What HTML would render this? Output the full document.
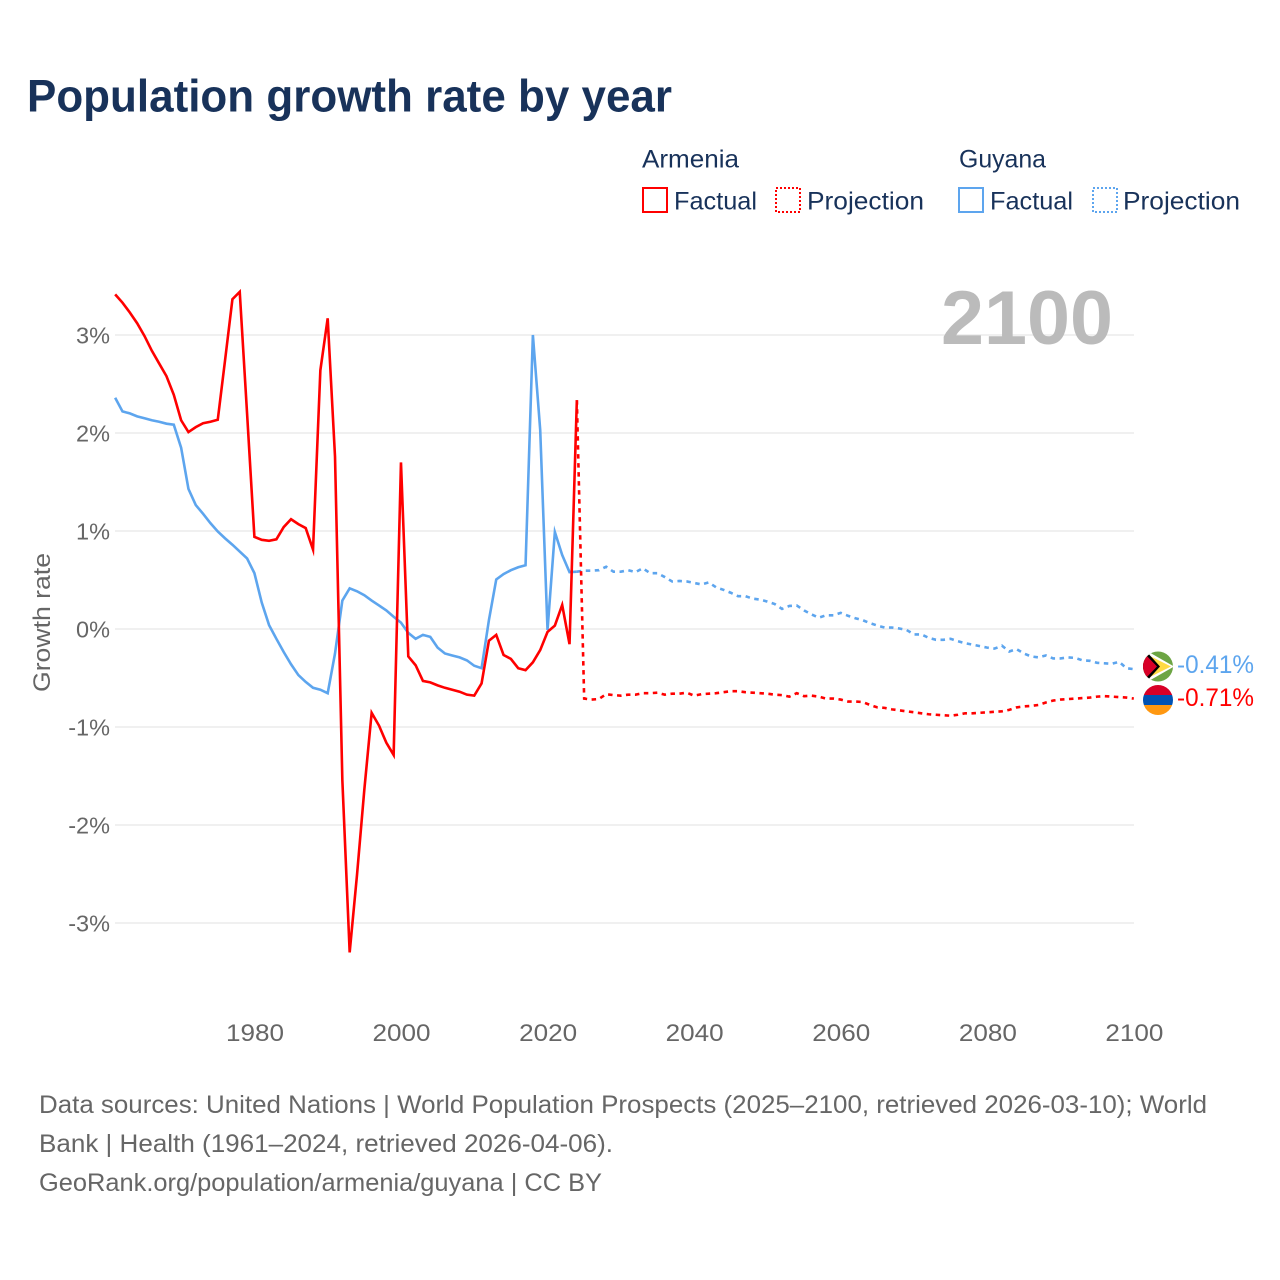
<!DOCTYPE html>
<html lang="en">
<head>
<meta charset="utf-8">
<title>Population growth rate by year</title>
<style>
html,body{margin:0;padding:0;background:#fff;width:1280px;height:1280px;overflow:hidden}
svg{display:block}
text{font-family:"Liberation Sans",sans-serif}
</style>
</head>
<body>
<svg id="chart" xmlns="http://www.w3.org/2000/svg" width="1280" height="1280" viewBox="0 0 1280 1280">
  <rect x="0" y="0" width="1280" height="1280" fill="#fff"/>
  <text x="27" y="111.500" font-size="45" font-weight="700" fill="#18325a" textLength="645" lengthAdjust="spacingAndGlyphs">Population growth rate by year</text>

  <g font-size="25" fill="#18325a">
    <text x="642" y="167.500" textLength="97" lengthAdjust="spacingAndGlyphs">Armenia</text>
    <rect x="643" y="188" width="24" height="24" fill="none" stroke="#ff0000" stroke-width="2"/>
    <text x="674" y="209.500" textLength="83" lengthAdjust="spacingAndGlyphs">Factual</text>
    <rect x="776" y="188" width="24" height="24" fill="none" stroke="#ff0000" stroke-width="2" stroke-dasharray="2 2"/>
    <text x="807" y="209.500" textLength="117" lengthAdjust="spacingAndGlyphs">Projection</text>
    <text x="959" y="167.500" textLength="87" lengthAdjust="spacingAndGlyphs">Guyana</text>
    <rect x="959" y="188" width="24" height="24" fill="none" stroke="#5da5ee" stroke-width="2"/>
    <text x="990" y="209.500" textLength="83" lengthAdjust="spacingAndGlyphs">Factual</text>
    <rect x="1093" y="188" width="24" height="24" fill="none" stroke="#5da5ee" stroke-width="2" stroke-dasharray="2 2"/>
    <text x="1123" y="209.500" textLength="117" lengthAdjust="spacingAndGlyphs">Projection</text>
  </g>

  <g id="grid"></g>
  <g id="yTicks"></g>
  <g id="xTicks"></g>
  <text transform="translate(50 692) rotate(-90)" font-size="24" fill="#666" textLength="139" lengthAdjust="spacingAndGlyphs">Growth rate</text>
  <text x="941" y="344" font-size="76" font-weight="700" fill="#bbbbbb" textLength="172" lengthAdjust="spacingAndGlyphs">2100</text>

  <g id="series"></g>

  <defs>
    <clipPath id="clipGuyana"><circle cx="1158" cy="666.500" r="15"/></clipPath>
    <clipPath id="clipArmenia"><circle cx="1158" cy="700" r="15"/></clipPath>
  </defs>
  <g clip-path="url(#clipGuyana)">
    <rect x="1143" y="651" width="30" height="31" fill="#6da544"/>
    <polygon points="1147,651 1174,666.500 1147,682 1143,682 1143,651" fill="#fff"/>
    <polygon points="1146,654 1171,666.500 1146,679 1143,679 1143,654" fill="#ffda44"/>
    <polygon points="1143,651 1146,651 1160,666.500 1146,682 1143,682" fill="#000"/>
    <polygon points="1143,654 1145,654 1157,666.500 1145,679 1143,679" fill="#d80027"/>
  </g>
  <g clip-path="url(#clipArmenia)">
    <rect x="1143" y="685" width="30" height="10" fill="#d80027"/>
    <rect x="1143" y="695" width="30" height="10" fill="#0052b4"/>
    <rect x="1143" y="705" width="30" height="10" fill="#ff9811"/>
  </g>
  <text id="labelGuyana" x="1177" y="673" font-size="25" fill="#5da5ee" textLength="77" lengthAdjust="spacingAndGlyphs"></text>
  <text id="labelArmenia" x="1177" y="706" font-size="25" fill="#ff0000" textLength="77" lengthAdjust="spacingAndGlyphs"></text>

  <g font-size="25" fill="#666">
    <text x="39" y="1113" textLength="1168" lengthAdjust="spacingAndGlyphs">Data sources: United Nations | World Population Prospects (2025–2100, retrieved 2026-03-10); World</text>
    <text x="39" y="1152" textLength="574" lengthAdjust="spacingAndGlyphs">Bank | Health (1961–2024, retrieved 2026-04-06).</text>
    <text x="39" y="1191" textLength="563" lengthAdjust="spacingAndGlyphs">GeoRank.org/population/armenia/guyana | CC BY</text>
  </g>
</svg>
<script>
const yTickValues = [3, 2, 1, 0, -1, -2, -3];
const xTickValues = [1980, 2000, 2020, 2040, 2060, 2080, 2100];
const factualStartYear = 1961;
const projectionStartYear = 2024;
const armeniaFactual = [
  3.415,3.33,3.23,3.12,2.99,2.84,2.71,2.58,2.39,2.13,
  2.01,2.06,2.10,2.115,2.135,2.745,3.365,3.44,2.2,0.94,
  0.91,0.90,0.915,1.04,1.12,1.07,1.03,0.81,2.64,3.17,
  1.76,-1.54,-3.30,-2.51,-1.64,-0.855,-0.985,-1.16,-1.285,1.70,
  -0.28,-0.37,-0.53,-0.545,-0.575,-0.60,-0.62,-0.64,-0.67,-0.68,
  -0.555,-0.12,-0.06,-0.265,-0.305,-0.40,-0.42,-0.34,-0.215,-0.03,
  0.035,0.245,-0.155,2.335
];
const guyanaFactual = [
  2.36,2.22,2.20,2.17,2.15,2.13,2.115,2.095,2.085,1.85,
  1.43,1.265,1.175,1.08,0.995,0.925,0.86,0.79,0.72,0.57,
  0.27,0.04,-0.10,-0.235,-0.36,-0.47,-0.54,-0.60,-0.62,-0.655,
  -0.25,0.29,0.415,0.385,0.345,0.29,0.24,0.19,0.125,0.065,
  -0.04,-0.10,-0.06,-0.08,-0.19,-0.25,-0.27,-0.29,-0.32,-0.375,
  -0.40,0.09,0.505,0.56,0.60,0.63,0.65,3.0,2.03,-0.01,
  0.99,0.755,0.58,0.585
];
const armeniaProjection = [
  2.335,-0.71,-0.72,-0.715,-0.665,-0.675,-0.68,-0.67,-0.67,-0.655,
  -0.655,-0.65,-0.67,-0.66,-0.66,-0.65,-0.68,-0.665,-0.66,-0.655,
  -0.645,-0.635,-0.635,-0.645,-0.65,-0.655,-0.66,-0.67,-0.675,-0.69,
  -0.655,-0.685,-0.68,-0.69,-0.71,-0.71,-0.72,-0.74,-0.74,-0.745,
  -0.775,-0.80,-0.805,-0.82,-0.83,-0.84,-0.85,-0.86,-0.87,-0.875,
  -0.88,-0.885,-0.875,-0.86,-0.86,-0.855,-0.85,-0.845,-0.84,-0.825,
  -0.80,-0.79,-0.785,-0.775,-0.75,-0.73,-0.72,-0.715,-0.71,-0.705,
  -0.70,-0.69,-0.685,-0.69,-0.695,-0.70,-0.71
];
const guyanaProjection = [
  0.585,0.595,0.595,0.60,0.635,0.585,0.585,0.60,0.58,0.62,
  0.57,0.57,0.53,0.485,0.49,0.485,0.47,0.455,0.475,0.425,
  0.40,0.37,0.335,0.335,0.31,0.30,0.28,0.255,0.205,0.235,
  0.24,0.19,0.15,0.115,0.14,0.14,0.165,0.135,0.11,0.09,
  0.06,0.035,0.015,0.015,0.005,-0.01,-0.055,-0.055,-0.09,-0.11,
  -0.11,-0.10,-0.125,-0.145,-0.16,-0.175,-0.19,-0.20,-0.17,-0.23,
  -0.205,-0.25,-0.28,-0.29,-0.27,-0.30,-0.30,-0.29,-0.295,-0.32,
  -0.325,-0.345,-0.35,-0.355,-0.335,-0.40,-0.41
];

const SVG_NS = 'http://www.w3.org/2000/svg';
function xScale(year) { return 254.4 + (year - 1980) * (1133.8 - 254.4) / 120; }
function yScale(value) { return 629 - value * 98; }
function formatPct(value) { return value.toFixed(2) + '%'; }

const gridGroup = document.getElementById('grid');
const yTickGroup = document.getElementById('yTicks');
const xTickGroup = document.getElementById('xTicks');
const seriesGroup = document.getElementById('series');

yTickValues.forEach(function (v) {
  const line = document.createElementNS(SVG_NS, 'line');
  
  
  line.setAttribute('x1', 115);
  line.setAttribute('x2', 1134);
  line.setAttribute('y1', yScale(v));
  line.setAttribute('y2', yScale(v));
  line.setAttribute('stroke', '#ececec');
  line.setAttribute('stroke-width', 1.5);
  gridGroup.appendChild(line);

  const label = document.createElementNS(SVG_NS, 'text');
  
  
  label.setAttribute('x', 110);
  label.setAttribute('y', yScale(v) + 8.500);
  label.setAttribute('text-anchor', 'end');
  label.setAttribute('font-size', 23.5);
  label.setAttribute('fill', '#666');
  label.textContent = v + '%';
  yTickGroup.appendChild(label);
});

xTickValues.forEach(function (year) {
  const label = document.createElementNS(SVG_NS, 'text');
  
  
  label.setAttribute('x', xScale(year) - 28.4);
  label.setAttribute('y', 1041);
  label.setAttribute('font-size', 24);
  label.setAttribute('fill', '#666');
  label.setAttribute('textLength', 58);
  label.setAttribute('lengthAdjust', 'spacingAndGlyphs');
  label.textContent = String(year);
  xTickGroup.appendChild(label);
});

function pathFor(values, startYear) {
  return values.map(function (v, i) {
    return (i ? 'L' : 'M') + xScale(startYear + i).toFixed(2) + ' ' + yScale(v).toFixed(2);
  }).join(' ');
}

function drawFactual(values, color) {
  const p = document.createElementNS(SVG_NS, 'path');
  
  
  p.setAttribute('d', pathFor(values, factualStartYear));
  p.setAttribute('fill', 'none');
  p.setAttribute('stroke', color);
  p.setAttribute('stroke-width', 2.6);
  p.setAttribute('stroke-linejoin', 'miter');
  p.setAttribute('stroke-miterlimit', 6);
  seriesGroup.appendChild(p);
}

function drawProjection(values, color) {
  const p = document.createElementNS(SVG_NS, 'path');
  
  
  p.setAttribute('d', pathFor(values, projectionStartYear));
  p.setAttribute('fill', 'none');
  p.setAttribute('stroke', color);
  p.setAttribute('stroke-width', 2.6);
  p.setAttribute('stroke-dasharray', '4.5 4.5');
  seriesGroup.appendChild(p);
}

drawFactual(guyanaFactual, '#5da5ee');
drawProjection(guyanaProjection, '#5da5ee');
drawFactual(armeniaFactual, '#ff0000');
drawProjection(armeniaProjection, '#ff0000');

document.getElementById('labelGuyana').textContent = formatPct(guyanaProjection[guyanaProjection.length - 1]);
document.getElementById('labelArmenia').textContent = formatPct(armeniaProjection[armeniaProjection.length - 1]);
</script>
</body>
</html>
